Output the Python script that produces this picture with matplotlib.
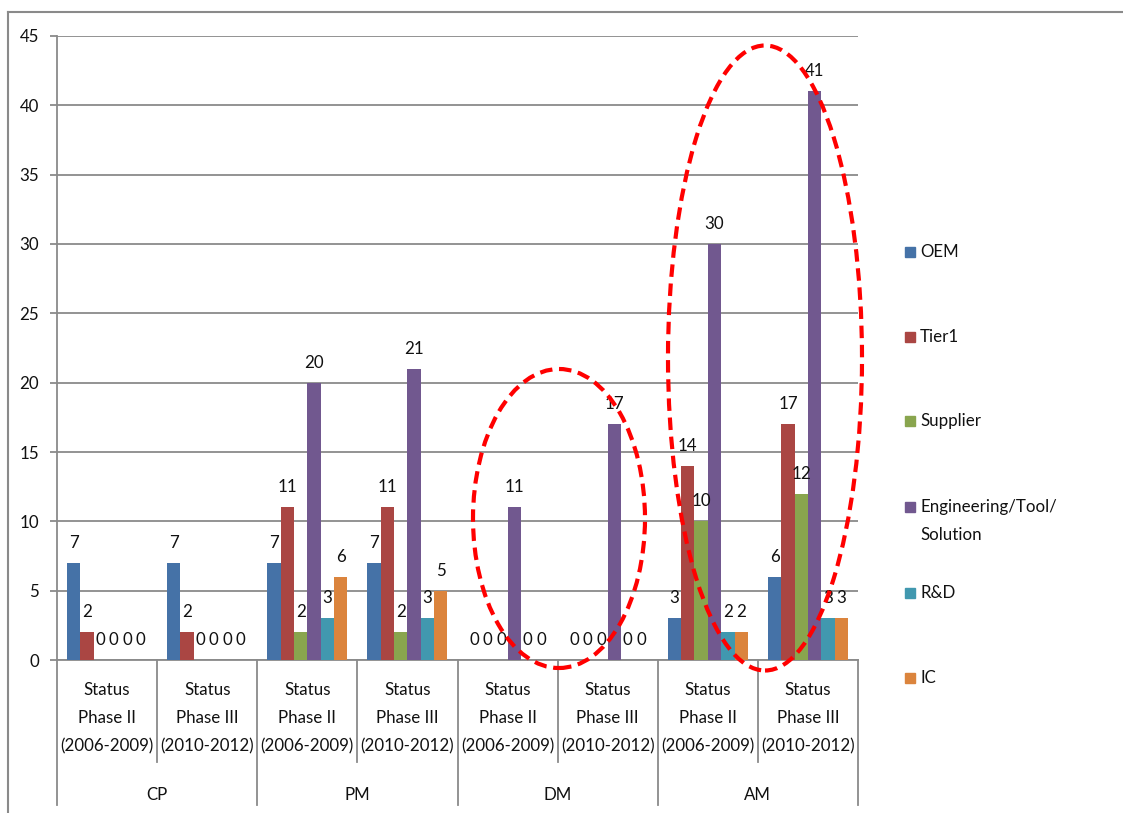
import matplotlib
matplotlib.use("Agg")
import matplotlib.pyplot as plt
from matplotlib.patches import Ellipse, Rectangle
from matplotlib.lines import Line2D
import numpy as np

# ---- data -------------------------------------------------------------
programs = ["CP", "PM", "DM", "AM"]
phases = ["Status\nPhase II\n(2006-2009)", "Status\nPhase III\n(2010-2012)"]
series = ["OEM", "Tier1", "Supplier", "Engineering/Tool/\nSolution", "R&D", "IC"]

oem = [7, 7, 7, 7, 0, 0, 3, 6]
tier1 = [2, 2, 11, 11, 0, 0, 14, 17]
supplier = [0, 0, 2, 2, 0, 0, 10, 12]
engineering = [0, 0, 20, 21, 11, 17, 30, 41]
rnd = [0, 0, 3, 3, 0, 0, 2, 3]
ic = [0, 0, 6, 5, 0, 0, 2, 3]

y_ticks = [0, 5, 10, 15, 20, 25, 30, 35, 40, 45]

colors = ["#4572A7", "#AA4643", "#89A54E", "#71588F", "#4198AF", "#DB843D"]
values = [oem, tier1, supplier, engineering, rnd, ic]

# ---- figure -----------------------------------------------------------
W, H = 1123, 813
fig = plt.figure(figsize=(W / 100, H / 100), dpi=100)
plt.rcParams["font.family"] = ["Lato", "DejaVu Sans"]
FS = 12.2
GRID = "#8a8a8a"
TXT = "#111111"


def px(x, y):
    return x / W, 1 - y / H


ax_left, ax_right, ax_top, ax_bottom = 57, 858, 36, 660
ax = fig.add_axes([ax_left / W, 1 - ax_bottom / H,
                   (ax_right - ax_left) / W, (ax_bottom - ax_top) / H])

n_groups = len(oem)
x = np.arange(n_groups)
bw = 1 / 7.5
offsets = (np.arange(len(series)) - (len(series) - 1) / 2) * bw

for s, (vals, c) in enumerate(zip(values, colors)):
    ax.bar(x + offsets[s], vals, width=bw, color=c, zorder=3, edgecolor="none")
    for xi, v in zip(x + offsets[s], vals):
        ax.annotate(f"{v}", (xi, v), xytext=(0, 15),
                    textcoords="offset pixels", ha="center", va="baseline",
                    fontsize=FS, color=TXT, zorder=4)

ax.set_xlim(-0.5, n_groups - 0.5)
ax.set_ylim(0, 45)
ax.set_yticks(y_ticks)
ax.set_yticklabels([str(t) for t in y_ticks], fontsize=FS, color=TXT)
ax.tick_params(axis="y", length=5, width=1.3, color=GRID, pad=8)
ax.set_xticks([])
ax.yaxis.grid(True, color=GRID, linewidth=1.3, zorder=0)
ax.set_axisbelow(True)
for sp in ["top", "right"]:
    ax.spines[sp].set_visible(False)
for sp in ["left", "bottom"]:
    ax.spines[sp].set_color(GRID)
    ax.spines[sp].set_linewidth(1.3)

# ---- two-level category axis -----------------------------------------
tr = ax.get_xaxis_transform()
axh = ax_bottom - ax_top


def yfrac(ypix):
    return (ax_bottom - ypix) / axh


for i in range(n_groups):
    lines = phases[i % 2].split("\n")
    for txt, yy in zip(lines, [690, 718, 746]):
        ax.text(i, yfrac(yy), txt, transform=tr, ha="center", va="center",
                fontsize=FS, color=TXT, clip_on=False)

for k, name in enumerate(programs):
    ax.text(2 * k + 0.5, yfrac(795), name, transform=tr, ha="center",
            va="center", fontsize=FS, color=TXT, clip_on=False)

for b in range(n_groups + 1):
    xb = b - 0.5
    end = 805 if b % 2 == 0 else 762
    ax.add_line(Line2D([xb, xb], [0, yfrac(end)], transform=tr, color=GRID,
                       linewidth=1.3, clip_on=False))

# ---- legend -----------------------------------------------------------
leg_y = [252, 337, 421, 507, 593, 678]
for name, c, yy in zip(series, colors, leg_y):
    fig.patches.append(Rectangle(px(905, yy + 5), 10 / W, 10 / H,
                                 transform=fig.transFigure, color=c))
    first, *rest = name.split("\n")
    fig.text(*px(920, yy), first, ha="left", va="center", fontsize=FS,
             color=TXT)
    for r, line in enumerate(rest):
        fig.text(*px(920, yy + 28 * (r + 1)), line, ha="left", va="center",
                 fontsize=FS, color=TXT)

# ---- highlight ellipses ----------------------------------------------
for cx, cy, ew, eh in [(559, 518.5, 172, 299), (765, 358, 194, 625)]:
    e = Ellipse(px(cx, cy), ew / W, eh / H, transform=fig.transFigure,
                fill=False, edgecolor="#FF0000", linewidth=3.0,
                linestyle=(0, (3.0, 1.6)), zorder=10)
    fig.patches.append(e)

# ---- chart frame -----------------------------------------------------
fig.lines.append(Line2D([8 / W, 8 / W], [0, 1 - 12 / H],
                        transform=fig.transFigure, color=GRID, linewidth=1.5))
fig.lines.append(Line2D([8 / W, 1], [1 - 12 / H, 1 - 12 / H],
                        transform=fig.transFigure, color=GRID, linewidth=1.5))

fig.savefig("out.png", dpi=100)
